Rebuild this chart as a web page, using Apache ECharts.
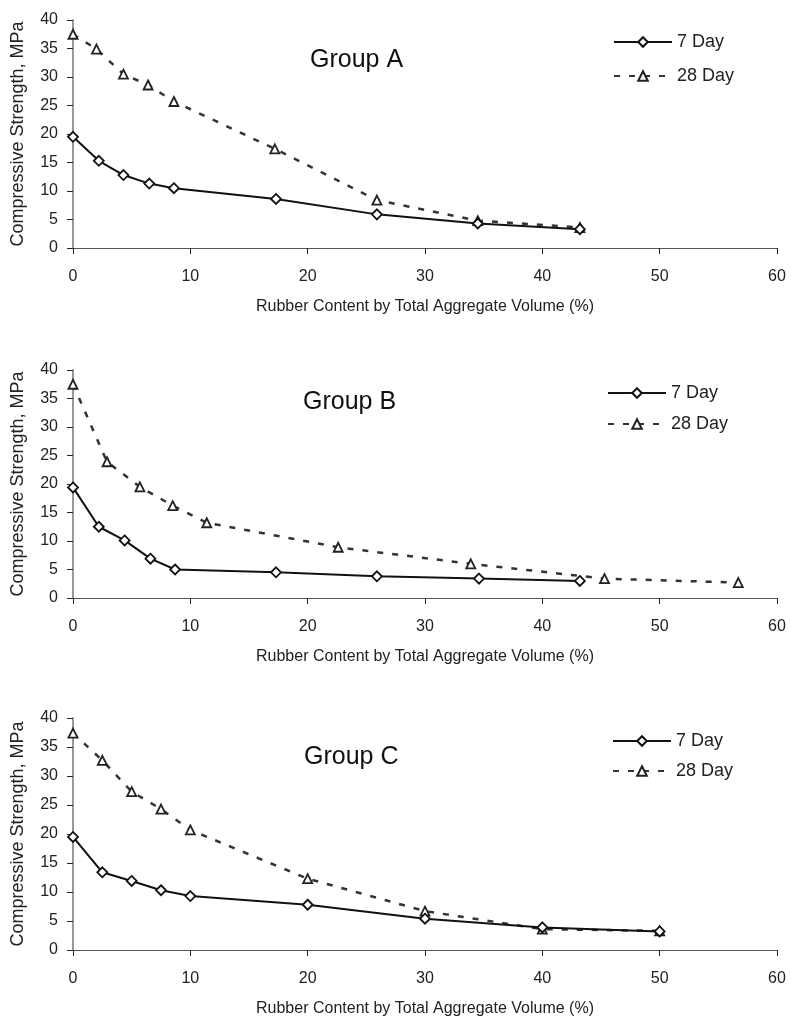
<!DOCTYPE html>
<html><head><meta charset="utf-8">
<script src="https://cdn.jsdelivr.net/npm/echarts@6/dist/echarts.min.js"></script>
<style>html,body{margin:0;padding:0;background:#fff}#c{width:791px;height:1018px}</style>
</head><body><div id="c"></div>
<script>
const groupNames = ['Group A', 'Group B', 'Group C'];
const seriesNames = ['7 Day', '28 Day'];
const xAxisTitle = 'Rubber Content by Total Aggregate Volume (%)';
const yAxisTitle = 'Compressive Strength, MPa';

const a7x = [0, 2.2, 4.3, 6.5, 8.6, 17.3, 25.9, 34.5, 43.2];
const a7y = [19.5, 15.3, 12.8, 11.3, 10.5, 8.6, 5.9, 4.3, 3.3];
const a28x = [0, 2.0, 4.3, 6.4, 8.6, 17.2, 25.9, 34.5, 43.2];
const a28y = [37.5, 34.9, 30.5, 28.6, 25.7, 17.4, 8.4, 4.8, 3.6];

const b7x = [0, 2.2, 4.4, 6.6, 8.7, 17.3, 25.9, 34.6, 43.2];
const b7y = [19.4, 12.5, 10.1, 6.9, 5.0, 4.5, 3.8, 3.4, 3.0];
const b28x = [0, 2.9, 5.7, 8.5, 11.4, 22.6, 33.9, 45.3, 56.7];
const b28y = [37.5, 23.9, 19.5, 16.2, 13.2, 8.9, 6.0, 3.4, 2.7];

const c7x = [0, 2.5, 5, 7.5, 10, 20, 30, 40, 50];
const c7y = [19.5, 13.4, 11.9, 10.3, 9.3, 7.8, 5.4, 3.9, 3.2];
const c28x = [0, 2.5, 5, 7.5, 10, 20, 30, 40, 50];
const c28y = [37.4, 32.7, 27.3, 24.3, 20.7, 12.3, 6.7, 3.6, 3.3];

const groups = [
  [[a7x, a7y], [a28x, a28y]],
  [[b7x, b7y], [b28x, b28y]],
  [[c7x, c7y], [c28x, c28y]]
];

const zip = (xs, ys) => xs.map((x, i) => [x, ys[i]]);
const FONT = 'Liberation Sans, Arial, sans-serif';

const layout = [
  { top: 20, height: 228, titleTop: 43, titleLeft: 305, legendTop: 28, legendLeft: 608, legendGap: 16 },
  { top: 370, height: 228, titleTop: 385, titleLeft: 298, legendTop: 379, legendLeft: 602, legendGap: 13 },
  { top: 718, height: 233, titleTop: 740, titleLeft: 299, legendTop: 727, legendLeft: 607, legendGap: 12 }
];

const grid = [], xAxis = [], yAxis = [], series = [], title = [], legend = [];
layout.forEach((L, g) => {
  grid.push({ left: 73, right: 14, top: L.top, height: L.height });
  xAxis.push({
    gridIndex: g, type: 'value', min: 0, max: 60, interval: 10,
    name: xAxisTitle, nameLocation: 'middle', nameGap: 51,
    nameTextStyle: { fontFamily: FONT, fontSize: 16, color: '#222' },
    axisLine: { lineStyle: { color: '#555', width: 1.2 } },
    axisTick: { show: true, length: 6, lineStyle: { color: '#222' } },
    axisLabel: { margin: 21, fontFamily: FONT, fontSize: 16, color: '#222' },
    splitLine: { show: false }
  });
  yAxis.push({
    gridIndex: g, type: 'value', min: 0, max: 40, interval: 5,
    name: yAxisTitle, nameLocation: 'middle', nameGap: 46,
    nameTextStyle: { fontFamily: FONT, fontSize: 18, color: '#222' },
    axisLine: { show: true, lineStyle: { color: '#777', width: 1.5 } },
    axisTick: { show: true, length: 6, lineStyle: { color: '#222' } },
    axisLabel: { margin: 15, fontFamily: FONT, fontSize: 16, color: '#222' },
    splitLine: { show: false }
  });
  title.push({
    text: groupNames[g], left: L.titleLeft, top: L.titleTop,
    textStyle: { fontFamily: FONT, fontSize: 25, fontWeight: 'normal', color: '#111' }
  });
  legend.push({
    orient: 'vertical', left: L.legendLeft, top: L.legendTop,
    itemWidth: 58, itemHeight: 12, itemGap: L.legendGap,
    data: seriesNames,
    textStyle: { fontFamily: FONT, fontSize: 18, color: '#222' },
    selectedMode: false
  });
  const [s7, s28] = groups[g];
  series.push({
    name: seriesNames[0], type: 'line', xAxisIndex: g, yAxisIndex: g,
    data: zip(s7[0], s7[1]), symbol: 'diamond', symbolSize: 10,
    lineStyle: { color: '#111', width: 2 },
    itemStyle: { color: '#fff', borderColor: '#111', borderWidth: 1.8 },
    z: 3
  });
  series.push({
    name: seriesNames[1], type: 'line', xAxisIndex: g, yAxisIndex: g,
    data: zip(s28[0], s28[1]), symbol: 'triangle', symbolSize: 9,
    lineStyle: { color: '#333', width: 2.5, type: [6, 9] },
    itemStyle: { color: '#fff', borderColor: '#222', borderWidth: 1.8 },
    z: 2
  });
});

const chart = echarts.init(document.getElementById('c'), null, { renderer: 'canvas' });
chart.setOption({
  animation: false, backgroundColor: '#fff',
  title, legend, grid, xAxis, yAxis, series
});
</script>
</body></html>
